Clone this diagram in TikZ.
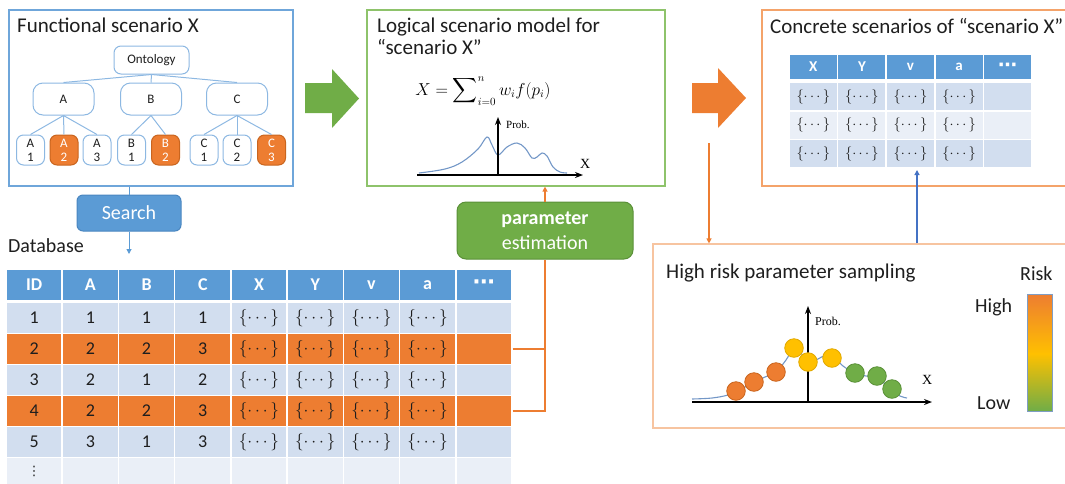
\documentclass[tikz,border=0pt]{standalone}
\usepackage{amsmath}
\usepackage{fontspec}
\setmainfont{Carlito}
\newfontfamily\tnr{Liberation Serif}
\newfontfamily\djv{DejaVu Sans}
\usetikzlibrary{arrows.meta}
\definecolor{hdrblue}{HTML}{5B9BD5}
\definecolor{lbA}{HTML}{D2DEEF}
\definecolor{lbB}{HTML}{EAEFF7}
\definecolor{orng}{HTML}{ED7D31}
\definecolor{orngdark}{HTML}{C9651F}
\definecolor{yel}{HTML}{FFC000}
\definecolor{yeldark}{HTML}{E0A800}
\definecolor{grn}{HTML}{70AD47}
\definecolor{grndark}{HTML}{5A9038}
\definecolor{treeblue}{HTML}{8DB8E2}
\definecolor{box1c}{HTML}{6FA6DA}
\definecolor{box2c}{HTML}{8EC36B}
\definecolor{box3c}{HTML}{F4A36A}
\definecolor{box4c}{HTML}{F7C4A0}
\definecolor{curvec}{HTML}{7397C7}
\definecolor{txt}{HTML}{1E1E1E}
\definecolor{searchdark}{HTML}{4A86C0}
\definecolor{linkblue}{HTML}{4472C4}
\definecolor{barb}{HTML}{7F9DC4}
\newcommand{\fsz}[2]{\fontsize{#1}{#2}\selectfont}
\newcommand{\brc}{$\{\cdots\}$}
\newcommand{\hdrdots}{{\djv\bfseries\fsz{22}{24}⋯}}
\tikzset{
  frame/.style={draw, line width=1.2pt, inner sep=0, fill=none},
  tnode/.style={draw=treeblue, line width=1pt, fill=white, rounded corners=7pt, inner sep=0, font=\fsz{13}{14}, text=txt, align=center},
  leafw/.style={tnode, minimum width=28pt, minimum height=30pt},
  leafo/.style={leafw, fill=orng, draw=orngdark, text=white},
  tline/.style={draw=treeblue, line width=1pt},
  title/.style={anchor=base west, inner sep=0, font=\fsz{21}{25}, text=txt},
  dbhead/.style={rectangle, fill=hdrblue, draw=white, line width=1.5pt, minimum width=56.22pt, minimum height=32pt, inner sep=0, text=white, font=\bfseries\fsz{18}{22}},
  dbcell/.style={rectangle, draw=white, line width=1.5pt, minimum width=56.22pt, minimum height=31pt, inner sep=0, text=txt, font=\fsz{18}{22}},
  cthead/.style={rectangle, fill=hdrblue, draw=white, line width=1.5pt, minimum width=48.6pt, minimum height=26pt, inner sep=0, text=white, font=\bfseries\fsz{15}{18}},
  ctcell/.style={rectangle, draw=white, line width=1.5pt, minimum width=48.6pt, minimum height=28.5pt, inner sep=0, text=txt, font=\fsz{14}{16}},
  tip/.style={-{Triangle[length=5pt,width=5pt]}},
  orline/.style={draw=orng, line width=1.3pt},
  axis/.style={line width=1.2pt, -{Stealth[length=8pt,width=6pt]}},
  ball/.style={circle, minimum size=18.6pt, inner sep=0, line width=0.8pt},
}
\begin{document}
\begin{tikzpicture}[x=1pt,y=-1pt]
\useasboundingbox (0,0) rectangle (1065,483);

% ---------- Functional scenario box ----------
\node[frame, draw=box1c, minimum width=284pt, minimum height=176pt] (func) at (151,98) {};
\node[title] (ftitle) at (17,32) {Functional scenario X};
\node[tnode, minimum width=75pt, minimum height=28pt] (onto) at (151.5,60) {Ontology};
\node[tnode, rounded corners=10pt, minimum width=61pt, minimum height=32pt] (nA) at (63.5,99) {A};
\node[tnode, rounded corners=10pt, minimum width=61pt, minimum height=32pt] (nB) at (151,99) {B};
\node[tnode, rounded corners=10pt, minimum width=61pt, minimum height=32pt] (nC) at (237,99) {C};
\node[leafw] (a1) at (30.5,150) {A\\1};
\node[leafo] (a2) at (64,150) {A\\2};
\node[leafw] (a3) at (97,150) {A\\3};
\node[leafw] (b1) at (131.5,150) {B\\1};
\node[leafo] (b2) at (165.5,150) {B\\2};
\node[leafw] (c1) at (204,150) {C\\1};
\node[leafw] (c2) at (237,150) {C\\2};
\node[leafo] (c3) at (271.5,150) {C\\3};
\foreach \n in {nA,nB,nC} \draw[tline] (onto.south) -- (\n.north);
\foreach \n in {a1,a2,a3} \draw[tline] (nA.south) -- (\n.north);
\foreach \n in {b1,b2} \draw[tline] (nB.south) -- (\n.north);
\foreach \n in {c1,c2,c3} \draw[tline] (nC.south) -- (\n.north);

% ---------- Search ----------
\node[draw=searchdark, fill=hdrblue, line width=1pt, rounded corners=6pt, minimum width=104pt, minimum height=36pt, inner sep=0, text=white, font=\fsz{20}{24}] (search) at (129,213) {Search};
\draw[draw=hdrblue, line width=1pt] (func.south -| search.north) -- (search.north);
\coordinate (dbtop) at (129,254);
\draw[draw=hdrblue, line width=1pt, tip] (search.south) -- (dbtop);
\node[title, font=\fsz{20}{24}] (dbtitle) at (8,252) {Database};

% ---------- Database table ----------
\foreach \lab [count=\c] in {ID,A,B,C,X,Y,v,a,\hdrdots}
  \node[dbhead] (db-0-\c) at ({6+56.22*(\c-0.5)},285) {\lab};
\foreach \i/\fc/\va/\vb/\vc/\vd in {1/lbA/1/1/1/1,2/orng/2/2/2/3,3/lbA/3/2/1/2,4/orng/4/2/2/3,5/lbA/5/3/1/3}{
  \foreach \txt [count=\c] in {\va,\vb,\vc,\vd,\brc,\brc,\brc,\brc,{}}
    \node[dbcell, fill=\fc] (db-\i-\c) at ({6+56.22*(\c-0.5)},{318+31*(\i-1)}) {\txt};
}
\node[dbcell, fill=lbB, minimum height=27pt] (db-6-1) at ({6+56.22*0.5},471) {\djv\fsz{13}{15}⋮};
\foreach \c in {2,...,9}
  \node[dbcell, fill=lbB, minimum height=27pt] (db-6-\c) at ({6+56.22*(\c-0.5)},471) {};

% ---------- Green arrow ----------
\fill[grn] (305,83) -- (332,83) -- (332,69) -- (359,98.5) -- (332,128) -- (332,113) -- (305,113) -- cycle;

% ---------- Logical scenario box ----------
\node[frame, draw=box2c, minimum width=298pt, minimum height=176pt] (logic) at (516,98) {};
\node[title] (lt1) at (377,32) {Logical scenario model for};
\node[title] (lt2) at (377,54) {“scenario X”};
\node[anchor=base, inner sep=0, font=\fsz{16}{19}] (formula) at (483,95) {$\displaystyle X=\sum\nolimits_{i=0}^{n} w_i f(p_i)$};
\coordinate (l-o) at (498,175);
\coordinate (l-xe) at (583,175);
\coordinate (l-xs) at (417,175);
\coordinate (l-ye) at (498,117);
\draw[curvec, line width=1.1pt] plot[smooth, tension=0.6] coordinates {(419,173) (445,169) (462,162) (478,149) (487,137) (492,145) (498,155) (507,147) (517,143) (525,148) (532,158) (537,157) (542,153) (547,156) (553,167) (560,172) (567,173)};
\draw[axis] (l-xs) -- (l-xe);
\draw[axis] (l-o) -- (l-ye);
\node[anchor=base west, inner sep=0, font=\tnr\fsz{11}{13}] (lprob) at (506,128) {Prob.};
\node[anchor=base west, inner sep=0, font=\tnr\fsz{14}{16}] (lx) at (580,168) {X};

% ---------- Parameter estimation ----------
\node[draw=grndark, fill=grn, line width=1pt, rounded corners=9pt, minimum width=176pt, minimum height=57pt, inner sep=0, text=white, align=center, font=\fsz{20}{25}] (param) at (545,230.5) {\textbf{parameter}\\estimation};
\draw[orline] (db-2-9.east) -- (db-2-9.east -| param.south);
\draw[orline] (db-4-9.east) -| (param.south);
\draw[orline, tip] (param.north) -- (param.north |- logic.south);

% ---------- Orange arrow ----------
\fill[orng] (692,83) -- (718,83) -- (718,68) -- (746,98) -- (718,128) -- (718,113) -- (692,113) -- cycle;

% ---------- Concrete scenarios box ----------
\node[frame, draw=box3c, minimum width=305pt, minimum height=176pt] (concrete) at (914.5,98) {};
\node[title] (ctitle) at (770,33) {Concrete scenarios of “scenario X”};
\foreach \lab [count=\c] in {X,Y,v,a,{{\djv\bfseries\fsz{19}{20}⋯}}}
  \node[cthead] (ct-0-\c) at ({789+48.6*(\c-0.5)},67) {\lab};
\foreach \i/\fc in {1/lbA,2/lbB,3/lbA}{
  \foreach \txt [count=\c] in {\brc,\brc,\brc,\brc,{}}
    \node[ctcell, fill=\fc] (ct-\i-\c) at ({789+48.6*(\c-0.5)},{96.75+28.5*(\i-1)}) {\txt};
}

% ---------- Risk box ----------
\node[frame, draw=box4c, minimum width=414pt, minimum height=184pt] (risk) at (860,336) {};
\coordinate (ostart) at (709,143);
\draw[orline, tip] (ostart) -- (ostart |- risk.north);
\coordinate (bx) at (917,170);
\draw[draw=linkblue, line width=1.3pt, tip] (bx |- risk.north) -- (bx);
\node[title, font=\fsz{21}{25}] (rtitle) at (666,278) {High risk parameter sampling};
\node[title, font=\fsz{20}{24}] (risklab) at (1020,280) {Risk};
\node[title, font=\fsz{20}{24}] (highlab) at (975,312) {High};
\node[title, font=\fsz{20}{24}] (lowlab) at (977,409) {Low};
\shade[top color=orng, bottom color=yel] (1027,294) rectangle (1052,354);
\shade[top color=yel, bottom color=grn] (1027,353.5) rectangle (1052,411);
\node[draw=barb, line width=1pt, minimum width=25pt, minimum height=117pt, inner sep=0] (bar) at (1039.5,352.5) {};

\coordinate (r-xs) at (692,402);
\coordinate (r-xe) at (932,402);
\coordinate (r-o) at (808,402);
\coordinate (r-ye) at (808,306);
\draw[curvec, line width=1.1pt] plot[smooth, tension=0.6] coordinates {(692,399) (712,398) (728,395) (736,391) (745,387) (754,382) (765,377) (776,372) (786,360) (794,348) (801,353) (808,362) (818,359) (826,355) (834,357) (843,366) (855,373) (866,376) (877,377) (885,384) (892,390) (900,396) (907,398)};
\draw[axis] (r-xs) -- (r-xe);
\draw[axis] (r-o) -- (r-ye);
\node[anchor=base west, inner sep=0, font=\tnr\fsz{12}{14}] (rprob) at (815,325) {Prob.};
\node[anchor=base west, inner sep=0, font=\tnr\fsz{14}{16}] (rx) at (922,384) {X};
\node[ball, fill=orng, draw=orngdark] (s1) at (736,391) {};
\node[ball, fill=orng, draw=orngdark] (s2) at (754,382) {};
\node[ball, fill=orng, draw=orngdark] (s3) at (776,372) {};
\node[ball, fill=yel, draw=yeldark] (s4) at (794,348) {};
\node[ball, fill=yel, draw=yeldark] (s5) at (808,362) {};
\node[ball, fill=yel, draw=yeldark] (s6) at (832,358) {};
\node[ball, fill=grn, draw=grndark] (s7) at (855,373) {};
\node[ball, fill=grn, draw=grndark] (s8) at (877,376) {};
\node[ball, fill=grn, draw=grndark] (s9) at (892,389) {};
\end{tikzpicture}
\end{document}
